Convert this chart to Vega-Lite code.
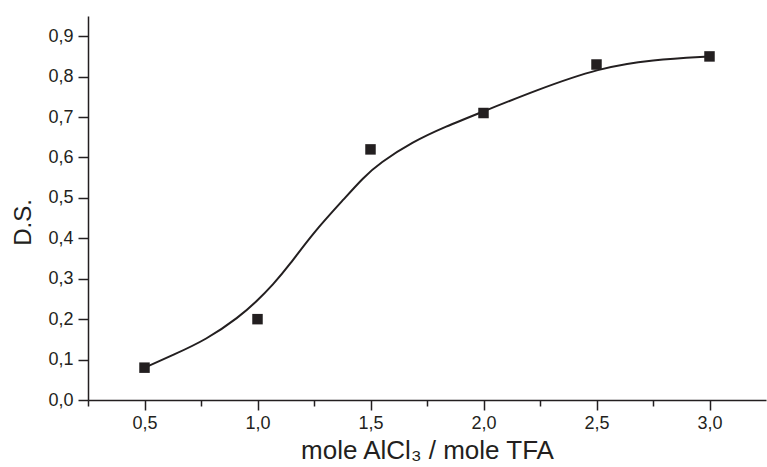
{
  "$schema": "https://vega.github.io/schema/vega-lite/v6.json",
  "width": 678,
  "height": 384,
  "autosize": {"type": "none"},
  "padding": {"left": 88, "top": 16, "right": 1, "bottom": 67},
  "background": "white",
  "config": {
    "locale": {"number": {"decimal": ",", "thousands": ".", "grouping": [3], "currency": ["", ""]}},
    "view": {"stroke": null},
    "font": "Liberation Sans",
    "axis": {"labelFontSize": 18, "labelFont": "Liberation Sans", "labelColor": "#231f20"}
  },
  "datasets": {
    "fit": [
      {"x": 0.5, "y": 0.08}, {"x": 0.625, "y": 0.111}, {"x": 0.773, "y": 0.149}, {"x": 0.92, "y": 0.206},
      {"x": 0.994, "y": 0.243}, {"x": 1.068, "y": 0.285}, {"x": 1.142, "y": 0.334}, {"x": 1.245, "y": 0.413},
      {"x": 1.392, "y": 0.503}, {"x": 1.466, "y": 0.549}, {"x": 1.54, "y": 0.586}, {"x": 1.687, "y": 0.639},
      {"x": 1.835, "y": 0.677}, {"x": 1.982, "y": 0.71}, {"x": 2.235, "y": 0.767}, {"x": 2.513, "y": 0.822},
      {"x": 2.748, "y": 0.842}, {"x": 3.0, "y": 0.85}
    ],
    "obs": [
      {"x": 0.5, "y": 0.08}, {"x": 1.0, "y": 0.2}, {"x": 1.5, "y": 0.62},
      {"x": 2.0, "y": 0.71}, {"x": 2.5, "y": 0.83}, {"x": 3.0, "y": 0.85}
    ]
  },
  "layer": [
    {
      "data": {"name": "fit"},
      "mark": {"type": "line", "interpolate": "basis", "color": "#231f20", "strokeWidth": 2},
      "encoding": {
        "x": {
          "field": "x", "type": "quantitative",
          "scale": {"domain": [0.25, 3.25], "nice": false, "zero": false},
          "axis": {
            "title": "mole AlCl₃ / mole TFA",
            "values": [0.25, 0.5, 0.75, 1.0, 1.25, 1.5, 1.75, 2.0, 2.25, 2.5, 2.75, 3.0],
            "format": ".1f",
            "labelExpr": "abs(datum.value*2 - round(datum.value*2)) < 0.001 ? datum.label : ''",
            "grid": false,
            "domainColor": "#231f20", "domainWidth": 1.5,
            "tickColor": "#231f20", "tickWidth": 1.5,
            "tickSize": {"condition": {"test": "abs(datum.value*2 - round(datum.value*2)) < 0.001", "value": 10}, "value": 6},
            "labelFontSize": 18, "labelPadding": 4,
            "encode": {"labels": {"update": {"fontSize": {"value": 18}}}},
            "titleFontSize": 26, "titleFontWeight": "normal", "titleColor": "#231f20", "titlePadding": 5
          }
        },
        "y": {
          "field": "y", "type": "quantitative",
          "scale": {"domain": [0, 0.95], "nice": false},
          "axis": {
            "title": "D.S.",
            "values": [0, 0.05, 0.1, 0.15, 0.2, 0.25, 0.3, 0.35, 0.4, 0.45, 0.5, 0.55, 0.6, 0.65, 0.7, 0.75, 0.8, 0.85, 0.9],
            "format": ".1f",
            "labelExpr": "abs(datum.value*10 - round(datum.value*10)) < 0.001 ? datum.label : ''",
            "grid": false,
            "domainColor": "#231f20", "domainWidth": 1.5,
            "tickColor": "#231f20", "tickWidth": 1.5,
            "tickSize": {"condition": {"test": "abs(datum.value*10 - round(datum.value*10)) < 0.001", "value": 10}, "value": 6},
            "labelFontSize": 18, "labelPadding": 5,
            "encode": {"labels": {"update": {"fontSize": {"value": 18}}}},
            "titleFontSize": 24, "titleFontWeight": "normal", "titleColor": "#231f20", "titlePadding": 12,
            "titleY": 206
          }
        }
      }
    },
    {
      "data": {"name": "obs"},
      "mark": {"type": "point", "shape": "square", "filled": true, "size": 110, "color": "#231f20", "opacity": 1},
      "encoding": {
        "x": {"field": "x", "type": "quantitative"},
        "y": {"field": "y", "type": "quantitative"}
      }
    }
  ]
}
